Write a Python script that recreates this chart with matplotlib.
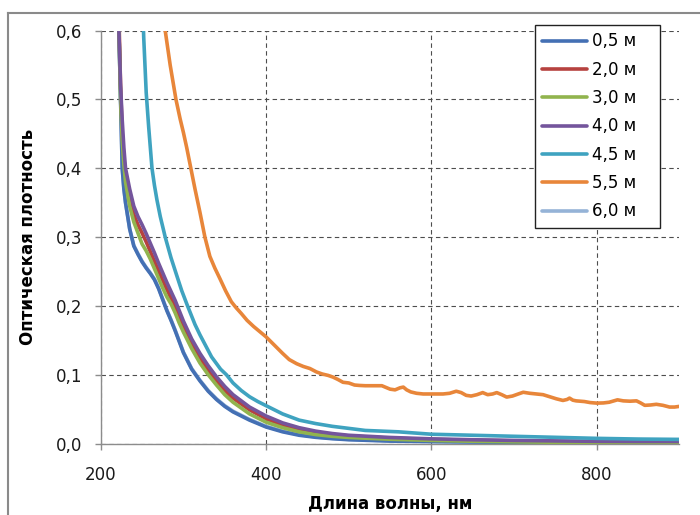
import matplotlib
matplotlib.use("Agg")
import matplotlib.pyplot as plt
from matplotlib.lines import Line2D
from matplotlib.ticker import FuncFormatter

plt.rcParams['font.family'] = ['DejaVu Sans']

# ---- data ----
labels = ["0,5 м", "2,0 м", "3,0 м", "4,0 м", "4,5 м", "5,5 м", "6,0 м"]
colors = ['#4470B4', '#B6423F', '#91B44E', '#74559C', '#3FA3C0', '#E8863A', '#95B3D7']

wl_common = [215, 220, 222, 224, 226, 228, 230, 235, 240, 245, 250, 255, 260, 265, 270, 275,
             280, 285, 290, 295, 300, 310, 320, 330, 340, 350, 360, 380, 400, 420, 440, 460,
             480, 500, 550, 600, 650, 700, 750, 800, 850, 900]

od_05 = [1.0, 0.75, 0.6, 0.5, 0.4, 0.37, 0.35, 0.312, 0.287, 0.275, 0.264, 0.255, 0.247, 0.238,
         0.225, 0.209, 0.193, 0.179, 0.164, 0.148, 0.132, 0.108, 0.091, 0.076, 0.064, 0.054,
         0.046, 0.034, 0.024, 0.017, 0.012, 0.009, 0.007, 0.0055, 0.0035, 0.0028, 0.0022,
         0.0018, 0.0015, 0.0012, 0.001, 0.001]

od_20 = [1.0, 0.78, 0.62, 0.52, 0.45, 0.415, 0.39, 0.355, 0.333, 0.318, 0.306, 0.293, 0.279,
         0.265, 0.251, 0.237, 0.224, 0.211, 0.199, 0.184, 0.17, 0.145, 0.124, 0.106, 0.091,
         0.077, 0.066, 0.049, 0.036, 0.027, 0.02, 0.016, 0.013, 0.011, 0.0078, 0.006, 0.0048,
         0.0038, 0.003, 0.0024, 0.002, 0.0018]

od_30 = [1.0, 0.75, 0.6, 0.5, 0.44, 0.405, 0.38, 0.345, 0.322, 0.306, 0.29, 0.28, 0.268, 0.254,
         0.24, 0.226, 0.213, 0.203, 0.19, 0.175, 0.162, 0.138, 0.117, 0.1, 0.085, 0.071, 0.06,
         0.043, 0.031, 0.023, 0.017, 0.013, 0.0105, 0.0088, 0.0062, 0.0045, 0.0033, 0.0025,
         0.0018, 0.0012, 0.001, 0.0008]

od_40 = [1.0, 0.78, 0.6, 0.52, 0.47, 0.43, 0.4, 0.37, 0.345, 0.33, 0.318, 0.305, 0.291, 0.277,
         0.262, 0.248, 0.234, 0.221, 0.208, 0.193, 0.178, 0.152, 0.131, 0.113, 0.097, 0.083,
         0.071, 0.053, 0.040, 0.030, 0.023, 0.018, 0.0145, 0.012, 0.0088, 0.0068, 0.0055,
         0.0045, 0.0038, 0.0032, 0.003, 0.003]

od_60 = [1.0, 0.75, 0.6, 0.5, 0.4, 0.37, 0.35, 0.312, 0.288, 0.276, 0.265, 0.256, 0.248, 0.239,
         0.226, 0.21, 0.194, 0.18, 0.165, 0.149, 0.133, 0.109, 0.092, 0.077, 0.065, 0.055,
         0.047, 0.035, 0.025, 0.018, 0.013, 0.0095, 0.0075, 0.006, 0.004, 0.003, 0.0024,
         0.002, 0.0016, 0.0013, 0.0011, 0.001]

wl_45 = [245, 250, 252, 255, 258, 262, 265, 268, 272, 278, 285, 292, 298, 305, 314, 320, 334,
         345, 352, 360, 370, 380, 390, 400, 420, 440, 460, 480, 500, 520, 560, 600, 650, 700,
         750, 800, 850, 900]
od_45 = [1.0, 0.66, 0.59, 0.51, 0.46, 0.4, 0.375, 0.354, 0.33, 0.3, 0.27, 0.244, 0.222, 0.2,
         0.173, 0.158, 0.126, 0.108, 0.1, 0.088, 0.077, 0.068, 0.061, 0.055, 0.043, 0.034, 0.029,
         0.025, 0.022, 0.019, 0.017, 0.0135, 0.012, 0.0105, 0.009, 0.0075, 0.0065, 0.006]

wl_55 = [270, 275, 278, 284, 291, 296, 300, 304, 309, 314, 320, 326, 332, 338, 344, 351, 358,
         364, 370, 377, 385, 392, 400, 410, 420, 428, 437, 445, 453, 461, 468, 475, 481, 487,
         493, 500, 507, 513, 520, 530, 540, 546, 550, 556, 562, 566, 570, 575, 582, 590, 600,
         614, 622, 630, 636, 642, 648, 655, 662, 668, 674, 679, 685, 691, 698, 705, 711, 719,
         727, 735, 743, 751, 759, 764, 767, 771, 775, 785, 792, 800, 808, 815, 825, 832, 840,
         848, 853, 858, 865, 872, 880, 888, 894, 900]
od_55 = [0.75, 0.64, 0.6, 0.55, 0.5, 0.472, 0.452, 0.43, 0.4, 0.37, 0.336, 0.3, 0.272, 0.255,
         0.24, 0.222, 0.206, 0.197, 0.189, 0.179, 0.17, 0.163, 0.155, 0.143, 0.131, 0.122, 0.116,
         0.112, 0.109, 0.104, 0.101, 0.099, 0.0965, 0.093, 0.089, 0.088, 0.085, 0.0844, 0.084,
         0.084, 0.084, 0.081, 0.079, 0.078, 0.081, 0.082, 0.078, 0.075, 0.073, 0.072, 0.072,
         0.072, 0.073, 0.076, 0.074, 0.070, 0.069, 0.071, 0.074, 0.071, 0.072, 0.074, 0.071,
         0.0675, 0.069, 0.072, 0.0745, 0.073, 0.072, 0.071, 0.068, 0.065, 0.0626, 0.064, 0.066,
         0.063, 0.062, 0.061, 0.0595, 0.0587, 0.059, 0.060, 0.0635, 0.062, 0.0615, 0.062, 0.059,
         0.0555, 0.056, 0.057, 0.0555, 0.053, 0.053, 0.054]

series = [
    (wl_common, od_05),
    (wl_common, od_20),
    (wl_common, od_30),
    (wl_common, od_40),
    (wl_45, od_45),
    (wl_55, od_55),
    (wl_common, od_60),
]
zorders = [3, 4, 5, 6, 7, 8, 2]

x_ticks = [200, 400, 600, 800]
y_ticks = [0.0, 0.1, 0.2, 0.3, 0.4, 0.5, 0.6]

# ---- figure ----
fig = plt.figure(figsize=(7.0, 5.15), dpi=100)
ax = fig.add_axes([0.1439, 0.1388, 0.8268, 0.8016])

for (x, y), lab, c, z in zip(series, labels, colors, zorders):
    ax.plot(x, y, color=c, lw=2.6, label=lab, zorder=z, solid_capstyle='round',
            solid_joinstyle='round')

ax.set_xlim(200, 900)
ax.set_ylim(0, 0.6)
ax.set_xticks(x_ticks)
ax.set_yticks(y_ticks)
ax.xaxis.set_major_formatter(FuncFormatter(lambda v, p: f"{v:.0f}"))
ax.yaxis.set_major_formatter(FuncFormatter(lambda v, p: f"{v:.1f}".replace('.', ',')))

for s in ['top', 'right']:
    ax.spines[s].set_visible(False)
for s in ['left', 'bottom']:
    ax.spines[s].set_color('#8C8C8C')
    ax.spines[s].set_linewidth(1.0)
    ax.spines[s].set_zorder(1)

ax.tick_params(axis='both', direction='out', length=4, width=1.0, color='#8C8C8C',
               labelsize=12, labelcolor='#1a1a1a')
ax.tick_params(axis='y', pad=9)
ax.tick_params(axis='x', pad=12)

ax.grid(True, which='major', color='#4d4d4d', linestyle=(0, (4, 3)), linewidth=0.8, zorder=0)
ax.set_axisbelow(True)

ax.set_xlabel("Длина волны, нм", fontsize=12, fontweight='bold', labelpad=8)
ax.set_ylabel("Оптическая плотность", fontsize=12, fontweight='bold', labelpad=14)

# legend box in axes coords
x0 = (535 - 100.7) / (679.5 - 100.7)
x1 = (660 - 100.7) / (679.5 - 100.7)
ytop = (443.5 - 25) / (443.5 - 30.7)
ybot = (443.5 - 230) / (443.5 - 30.7)
leg = ax.legend(loc='upper left', bbox_to_anchor=(x0, ybot, x1 - x0, ytop - ybot),
                mode='expand', borderaxespad=0, fontsize=12, frameon=True, fancybox=False,
                handlelength=2.7, handletextpad=0.25, labelspacing=0.62, borderpad=0.45)
leg.get_frame().set_edgecolor('#222222')
leg.get_frame().set_linewidth(1.0)
leg.get_frame().set_alpha(1.0)
leg.set_zorder(20)

# outer chart border (top and left visible)
fig.add_artist(Line2D([8 / 700, 8 / 700], [0, 1 - 13 / 515], transform=fig.transFigure,
                      color='#8A8A8A', lw=1.5))
fig.add_artist(Line2D([8 / 700, 1], [1 - 13 / 515, 1 - 13 / 515], transform=fig.transFigure,
                      color='#8A8A8A', lw=1.5))

fig.savefig("out.png", dpi=100)
